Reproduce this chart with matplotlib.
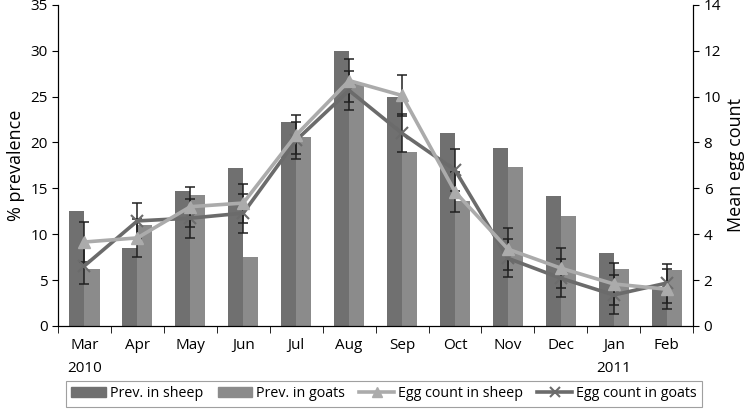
import numpy as np
import matplotlib
matplotlib.use("Agg")
import matplotlib.pyplot as plt
from matplotlib.lines import Line2D
from matplotlib.patches import Patch

plt.rcParams['font.family'] = ['Open Sans', 'DejaVu Sans']

# data
months = ["Mar\n2010", "Apr", "May", "Jun", "Jul", "Aug", "Sep", "Oct", "Nov", "Dec", "Jan\n2011", "Feb"]
prev_sheep = [12.5, 8.5, 14.7, 17.2, 22.2, 30.0, 25.0, 21.0, 19.4, 14.2, 7.9, 4.0]
prev_goats = [6.2, 11.0, 14.3, 7.5, 20.6, 26.5, 19.0, 13.6, 17.3, 12.0, 6.2, 6.1]
egg_sheep = [3.66, 3.84, 5.2, 5.36, 8.33, 10.7, 10.05, 5.85, 3.35, 2.52, 1.83, 1.6]
egg_goats = [2.62, 4.58, 4.7, 4.92, 8.1, 10.27, 8.4, 6.8, 2.95, 2.08, 1.35, 1.87]
err_sheep = [0.87, 0.83, 0.87, 0.85, 0.85, 0.95, 0.9, 0.87, 0.9, 0.88, 0.9, 0.88]
err_goats = [0.8, 0.8, 0.85, 0.85, 0.8, 0.85, 0.83, 0.9, 0.83, 0.83, 0.85, 0.85]

x = np.arange(len(months))
w = 0.285

fig = plt.figure(figsize=(7.5, 4.11), dpi=100)
ax = fig.add_axes([0.0773, 0.207, 0.847, 0.781])

c_sheep_bar = '#707070'
c_goats_bar = '#8b8b8b'
c_sheep_line = '#ababab'
c_goats_line = '#6b6b6b'

ax.bar(x - w / 2, prev_sheep, w, color=c_sheep_bar, zorder=2)
ax.bar(x + w / 2, prev_goats, w, color=c_goats_bar, zorder=2)
ax.set_xlim(-0.5, len(months) - 0.5)
ax.set_ylim(0, 35)
ax.set_yticks(np.arange(0, 36, 5))
ax.set_ylabel("% prevalence", fontsize=13)
ax.set_xticks(x)
ax.set_xticklabels(months, fontsize=11, linespacing=1.7)
ax.set_xticks(np.arange(-0.5, len(months)), minor=True)
ax.tick_params(axis='x', which='major', length=0, pad=9)
ax.tick_params(axis='x', which='minor', length=5, direction='out')
ax.tick_params(axis='y', labelsize=11, length=4)
ax.spines['top'].set_visible(False)

ax2 = ax.twinx()
ax2.set_ylim(0, 14)
ax2.set_yticks(np.arange(0, 15, 2))
ax2.tick_params(axis='y', labelsize=11, length=4)
ax2.set_ylabel("Mean egg count", fontsize=13)
ax2.spines['top'].set_visible(False)

ax2.errorbar(x, egg_sheep, yerr=err_sheep, fmt='none', ecolor='#202020', elinewidth=1.1, capsize=3.5, capthick=1.1, zorder=3)
ax2.errorbar(x, egg_goats, yerr=err_goats, fmt='none', ecolor='#202020', elinewidth=1.1, capsize=3.5, capthick=1.1, zorder=3)
ax2.plot(x, egg_goats, color=c_goats_line, lw=2.6, marker='x', markersize=9, mew=1.5, zorder=4)
ax2.plot(x, egg_sheep, color=c_sheep_line, lw=2.6, marker='^', markersize=9, zorder=5)

handles = [
    Patch(color=c_sheep_bar, label="Prev. in sheep"),
    Patch(color=c_goats_bar, label="Prev. in goats"),
    Line2D([], [], color=c_sheep_line, lw=2.6, marker='^', markersize=7, label="Egg count in sheep"),
    Line2D([], [], color=c_goats_line, lw=2.6, marker='x', markersize=7, mew=1.5, label="Egg count in goats"),
]
leg = fig.legend(handles=handles, loc='lower center', bbox_to_anchor=(0.512, -0.008), ncol=4,
                 fontsize=10.3, frameon=True, fancybox=False, edgecolor='#888888',
                 handlelength=2.4, handletextpad=0.3, columnspacing=1.0, borderpad=0.4)
leg.get_frame().set_linewidth(0.8)

fig.savefig("out.png", dpi=100)
